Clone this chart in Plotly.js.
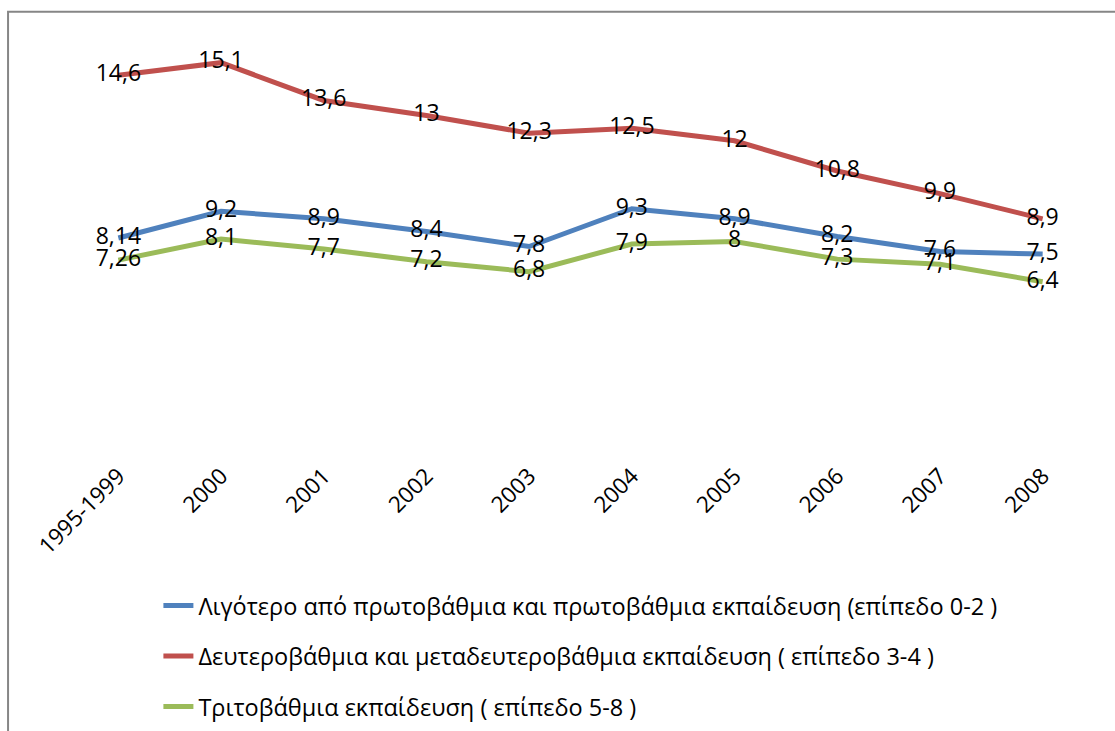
<!DOCTYPE html>
<html>
<head>
<meta charset="utf-8">
<script src="https://cdn.plot.ly/plotly-3.0.1.min.js"></script>
<style>html,body{margin:0;padding:0;background:#fff;}#chart{width:1115px;height:731px;}</style>
</head>
<body>
<div id="chart"></div>
<script>
const categories = ["1995-1999","2000","2001","2002","2003","2004","2005","2006","2007","2008"];
const primary = [8.14, 9.2, 8.9, 8.4, 7.8, 9.3, 8.9, 8.2, 7.6, 7.5];
const secondary = [14.6, 15.1, 13.6, 13, 12.3, 12.5, 12, 10.8, 9.9, 8.9];
const tertiary = [7.26, 8.1, 7.7, 7.2, 6.8, 7.9, 8, 7.3, 7.1, 6.4];
const seriesNames = [
  "Λιγότερο από πρωτοβάθμια και πρωτοβάθμια εκπαίδευση (επίπεδο 0-2 )",
  "Δευτεροβάθμια και μεταδευτεροβάθμια εκπαίδευση ( επίπεδο 3-4 )",
  "Τριτοβάθμια εκπαίδευση ( επίπεδο 5-8 )"
];
const colors = ["#4F81BD", "#C0504D", "#9BBB59"];
const fontFam = "Open Sans, Noto Sans, sans-serif";
const fmt = v => String(v).replace(".", ",");

const data = [primary, secondary, tertiary].map((vals, i) => ({
  type: "scatter",
  mode: "lines+text",
  x: categories,
  y: vals,
  name: seriesNames[i],
  legendgroup: "g" + i,
  line: {color: colors[i], width: 5},
  text: vals.map(fmt),
  textposition: "middle center",
  textfont: {family: fontFam, size: 23, color: "#000"},
  hoverinfo: "x+y"
}));

const layout = {
  width: 1115, height: 731,
  margin: {l: 67, r: 21, t: 40, b: 288, autoexpand: false},
  paper_bgcolor: "#fff", plot_bgcolor: "#fff",
  showlegend: true,
  font: {family: fontFam, color: "#000"},
  xaxis: {
    type: "category",
    automargin: false,
    tickangle: -45,
    tickfont: {family: fontFam, size: 22.5, color: "#000"},
    showgrid: false, zeroline: false, showline: false,
    ticks: "outside", ticklen: 10, tickcolor: "rgba(0,0,0,0)"
  },
  yaxis: {
    range: [0, 16],
    visible: false,
    automargin: false,
    showgrid: false, zeroline: false
  },
  legend: {
    orientation: "v",
    x: 0.089, xanchor: "left",
    yref: "container",
    y: 0.2015, yanchor: "top",
    font: {family: fontFam, size: 23.5, color: "#000"},
    tracegroupgap: 17,
    bgcolor: "rgba(0,0,0,0)"
  },
  shapes: [{
    type: "rect", xref: "paper", yref: "paper",
    x0: -0.0574, x1: 1.1, y0: -0.9, y1: 1.07,
    line: {color: "#868686", width: 2}, fillcolor: "rgba(0,0,0,0)"
  }]
};

Plotly.newPlot("chart", data, layout, {displayModeBar: false, staticPlot: true});
</script>
</body>
</html>
